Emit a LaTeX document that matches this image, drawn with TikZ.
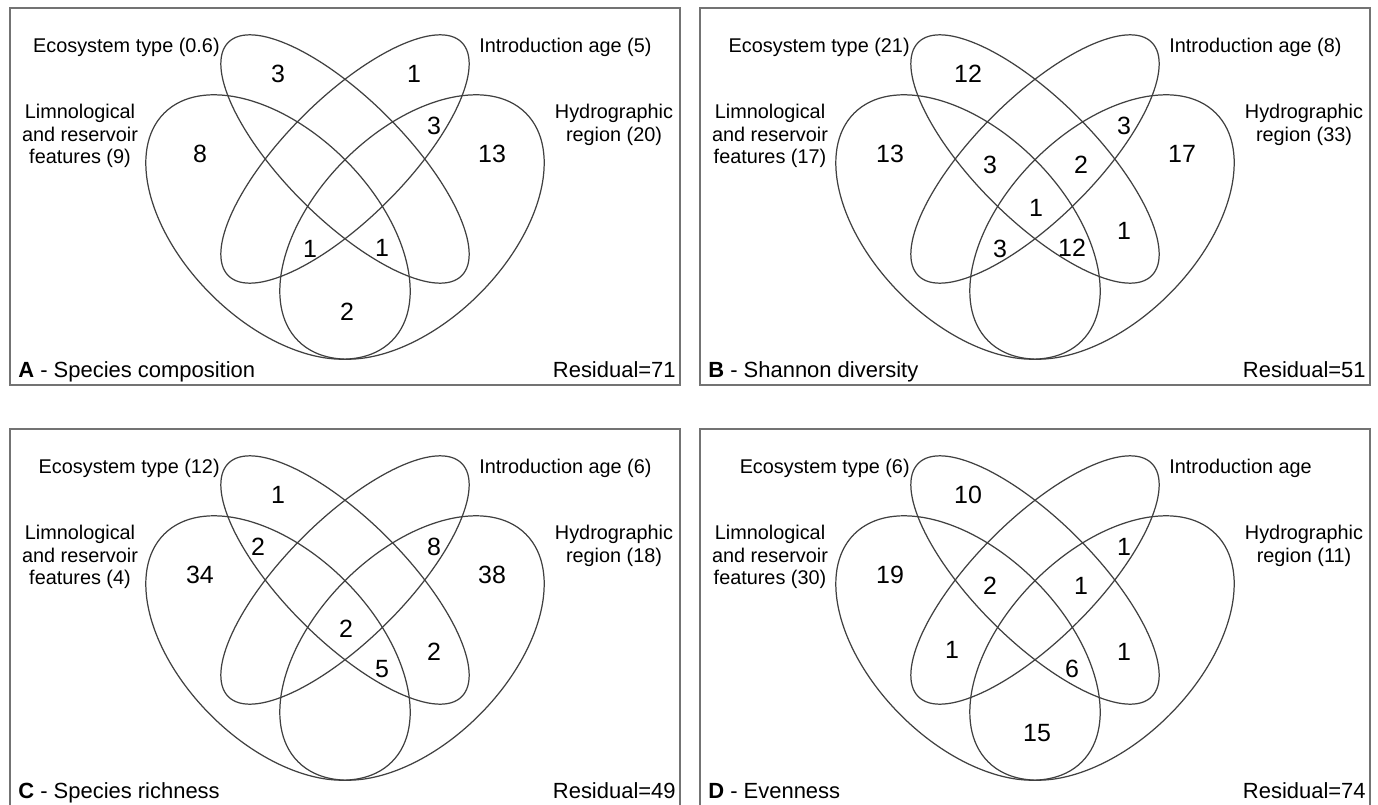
\documentclass[tikz,border=0pt]{standalone}
\usepackage{fontspec}
\setmainfont{Liberation Sans}
\usetikzlibrary{positioning}

\tikzset{
  panelbox/.style={draw=black!55, line width=0.9pt},
  vennline/.style={draw=black!75, line width=0.7pt},
  setlabel/.style={font=\fontsize{11.3}{13}\selectfont, inner sep=0pt, align=center},
  count/.style={font=\fontsize{14.2}{16}\selectfont, inner sep=0pt},
  caption/.style={font=\fontsize{12.5}{15}\selectfont, inner sep=0pt},
  venn/.pic={
    \draw[panelbox] (0,0) rectangle (670,377);
    \draw[vennline] (268,219) ellipse [x radius=161, y radius=95, rotate=-45];
    \draw[vennline] (402,219) ellipse [x radius=161, y radius=95, rotate=45];
    \draw[vennline] (335,151) ellipse [x radius=165, y radius=60, rotate=-45];
    \draw[vennline] (335,151) ellipse [x radius=165, y radius=60, rotate=45];
    % label spots
    \coordinate (-eco) at (210,39);
    \coordinate (-intro) at (469,39);
    \coordinate (-limno) at (70,128);
    \coordinate (-hydro) at (604,117);
    \coordinate (-title) at (8,369);
    \coordinate (-res) at (666,369);
    % region centres
    \coordinate (-e) at (268,66);
    \coordinate (-i) at (404,66);
    \coordinate (-l) at (190,146);
    \coordinate (-h) at (482,146);
    \coordinate (-el) at (248,118);
    \coordinate (-ih) at (424,118);
    \coordinate (-eil) at (290,157);
    \coordinate (-eih) at (381,157);
    \coordinate (-all) at (336,200);
    \coordinate (-ilh) at (300,241);
    \coordinate (-elh) at (372,240);
    \coordinate (-eh) at (424,223);
    \coordinate (-il) at (252,221);
    \coordinate (-lh) at (337,304);
  }
}

\begin{document}
\begin{tikzpicture}[x=0.02cm, y=-0.02cm]
\useasboundingbox (0,0) rectangle (1378,804);

\pic (a) at (10,8) {venn};
\pic (b) at (700,8) {venn};
\pic (c) at (10,429) {venn};
\pic (d) at (700,429) {venn};

% A
\node[setlabel, anchor=east] (aeco) at (a-eco) {Ecosystem type (0.6)};
\node[setlabel, anchor=west] (aintro) at (a-intro) {Introduction age (5)};
\node[setlabel] (alimno) at (a-limno) {Limnological\\and reservoir\\features (9)};
\node[setlabel] (ahydro) at (a-hydro) {Hydrographic\\region (20)};
\node[caption, anchor=base west] (atitle) at (a-title) {\textbf{A} - Species composition};
\node[caption, anchor=base east] (ares) at (a-res) {Residual=71};
\foreach \r/\n in {e/3, i/1, l/8, h/13, ih/3, ilh/1, elh/1, lh/2}
  \node[count] (a\r) at (a-\r) {\n};

% B
\node[setlabel, anchor=east] (beco) at (b-eco) {Ecosystem type (21)};
\node[setlabel, anchor=west] (bintro) at (b-intro) {Introduction age (8)};
\node[setlabel] (blimno) at (b-limno) {Limnological\\and reservoir\\features (17)};
\node[setlabel] (bhydro) at (b-hydro) {Hydrographic\\region (33)};
\node[caption, anchor=base west] (btitle) at (b-title) {\textbf{B} - Shannon diversity};
\node[caption, anchor=base east] (bres) at (b-res) {Residual=51};
\foreach \r/\n in {e/12, l/13, h/17, ih/3, eil/3, eih/2, all/1, ilh/3, elh/12, eh/1}
  \node[count] (b\r) at (b-\r) {\n};

% C
\node[setlabel, anchor=east] (ceco) at (c-eco) {Ecosystem type (12)};
\node[setlabel, anchor=west] (cintro) at (c-intro) {Introduction age (6)};
\node[setlabel] (climno) at (c-limno) {Limnological\\and reservoir\\features (4)};
\node[setlabel] (chydro) at (c-hydro) {Hydrographic\\region (18)};
\node[caption, anchor=base west] (ctitle) at (c-title) {\textbf{C} - Species richness};
\node[caption, anchor=base east] (cres) at (c-res) {Residual=49};
\foreach \r/\n in {e/1, el/2, l/34, h/38, ih/8, all/2, elh/5, eh/2}
  \node[count] (c\r) at (c-\r) {\n};

% D
\node[setlabel, anchor=east] (deco) at (d-eco) {Ecosystem type (6)};
\node[setlabel, anchor=west] (dintro) at (d-intro) {Introduction age};
\node[setlabel] (dlimno) at (d-limno) {Limnological\\and reservoir\\features (30)};
\node[setlabel] (dhydro) at (d-hydro) {Hydrographic\\region (11)};
\node[caption, anchor=base west] (dtitle) at (d-title) {\textbf{D} - Evenness};
\node[caption, anchor=base east] (dres) at (d-res) {Residual=74};
\foreach \r/\n in {e/10, l/19, ih/1, eil/2, eih/1, il/1, eh/1, elh/6, lh/15}
  \node[count] (d\r) at (d-\r) {\n};

\end{tikzpicture}
\end{document}
